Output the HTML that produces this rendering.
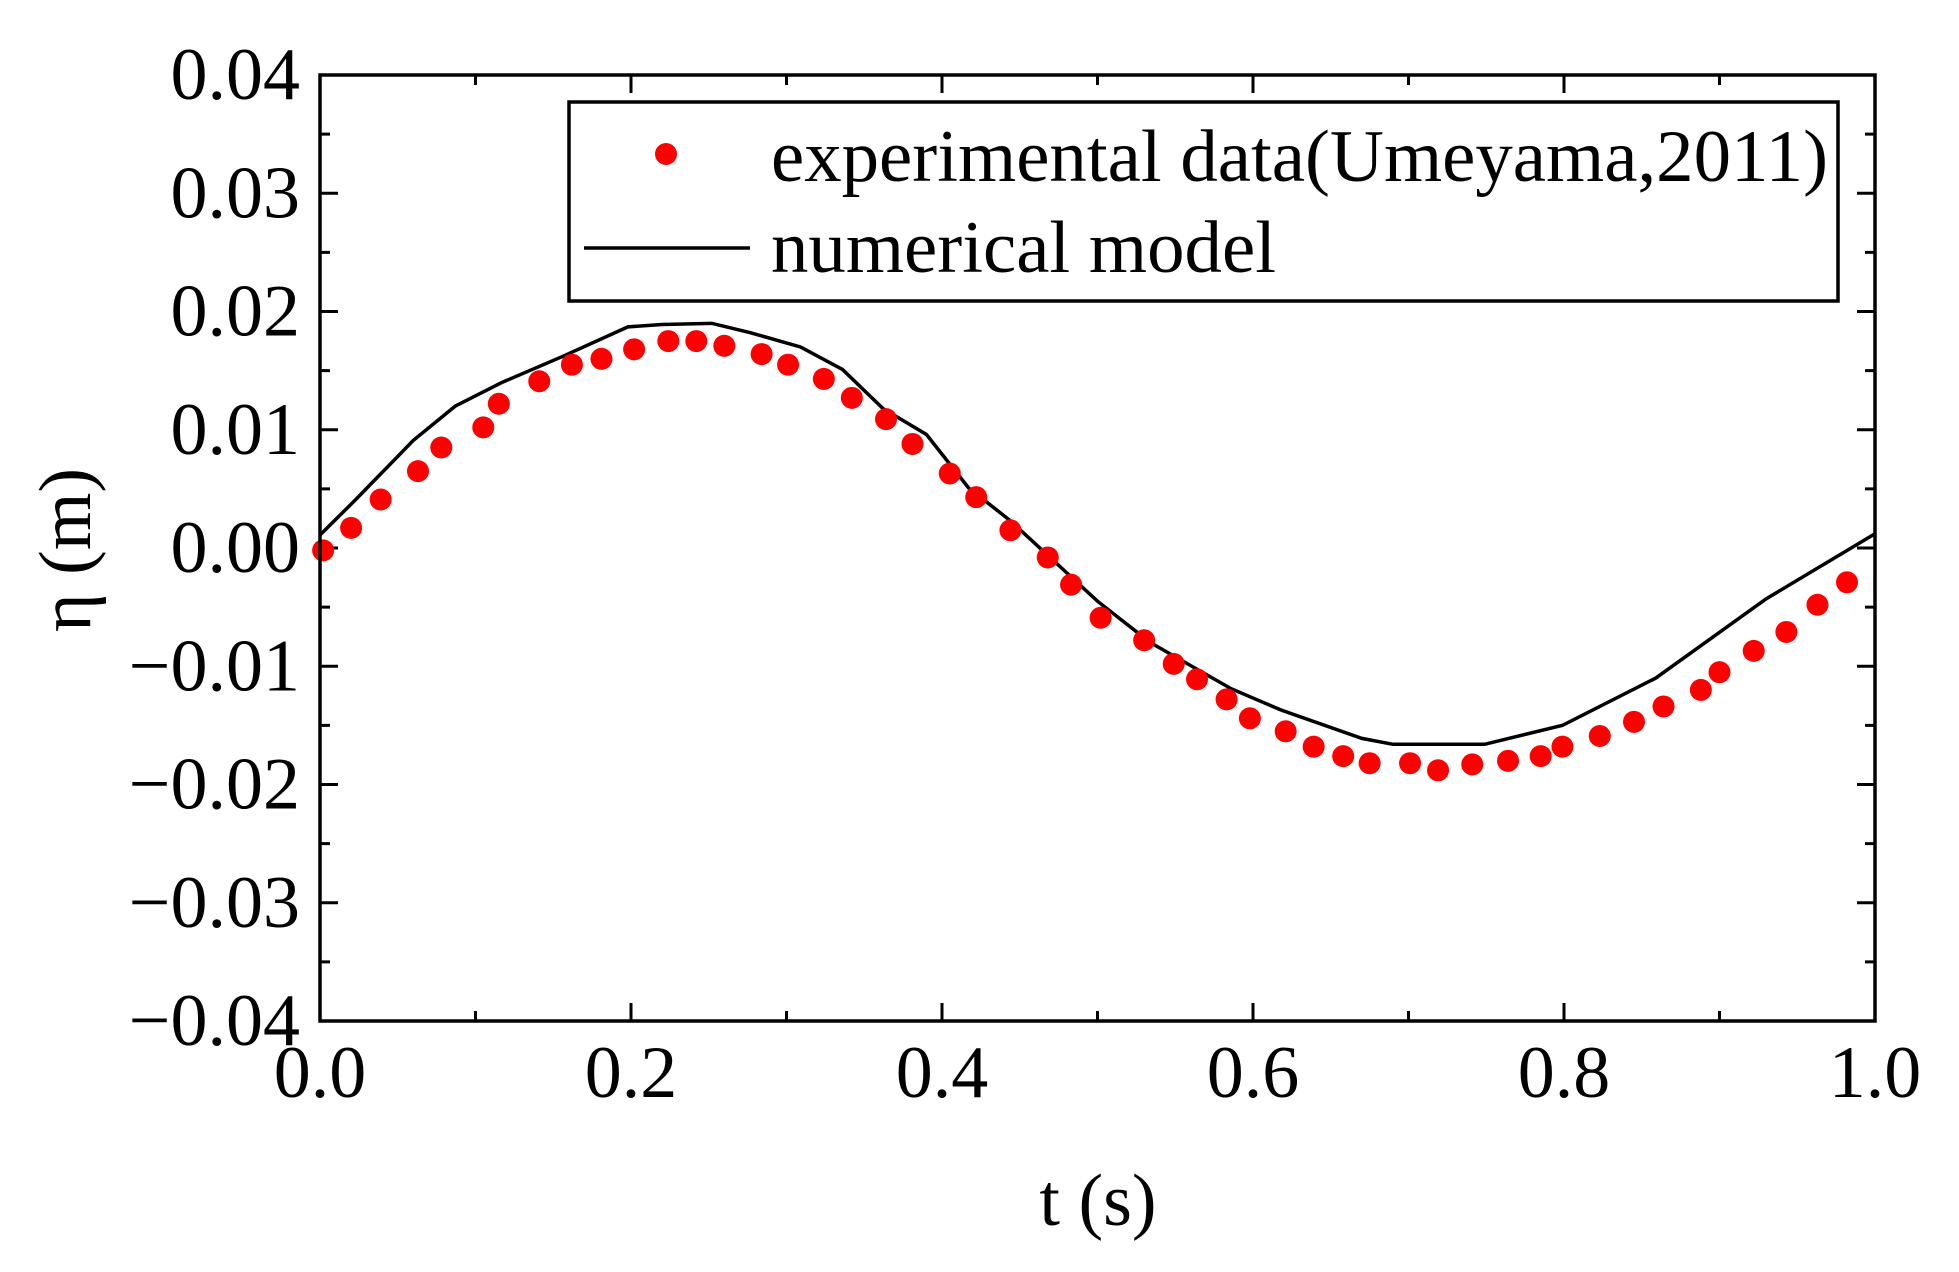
<!DOCTYPE html>
<html><head><meta charset="utf-8"><style>
html,body{margin:0;padding:0;background:#fff;}
svg{display:block;font-family:"Liberation Serif",serif;}
</style></head><body>
<svg id="chart" width="1959" height="1272" viewBox="0 0 1959 1272" xmlns="http://www.w3.org/2000/svg"></svg>
<script>
const expT=[0.002,0.020,0.039,0.063,0.078,0.105,0.115,0.141,0.162,0.181,0.202,0.224,0.242,0.260,0.284,0.301,0.324,0.342,0.364,0.381,0.405,0.422,0.444,0.468,0.483,0.502,0.530,0.549,0.564,0.583,0.598,0.621,0.639,0.658,0.675,0.701,0.719,0.741,0.764,0.785,0.799,0.823,0.845,0.864,0.888,0.900,0.922,0.943,0.963,0.982];
const expEta=[-0.0002,0.0017,0.0041,0.0065,0.0085,0.0102,0.0122,0.0141,0.0155,0.0160,0.0168,0.0175,0.0175,0.0171,0.0164,0.0155,0.0143,0.0127,0.0109,0.0088,0.0063,0.0043,0.0015,-0.0008,-0.0031,-0.0059,-0.0078,-0.0098,-0.0111,-0.0128,-0.0144,-0.0155,-0.0168,-0.0176,-0.0182,-0.0182,-0.0188,-0.0183,-0.0180,-0.0176,-0.0168,-0.0159,-0.0147,-0.0134,-0.0120,-0.0105,-0.0087,-0.0071,-0.0048,-0.0029];
const numT=[0,0.023,0.06,0.087,0.117,0.156,0.198,0.22,0.252,0.277,0.309,0.336,0.362,0.39,0.417,0.444,0.472,0.5,0.534,0.586,0.618,0.67,0.69,0.749,0.799,0.859,0.93,1.0];
const numEta=[0.0011,0.0041,0.0091,0.012,0.014,0.0162,0.0187,0.0189,0.019,0.0182,0.017,0.0151,0.0118,0.0096,0.0051,0.0023,-0.0011,-0.0045,-0.008,-0.0119,-0.0137,-0.0161,-0.0166,-0.0166,-0.015,-0.011,-0.0043,0.0012];
const xTicks=[0,0.2,0.4,0.6,0.8,1.0];
const xTickLabels=["0.0","0.2","0.4","0.6","0.8","1.0"];
const yTicks=[0.04,0.03,0.02,0.01,0,-0.01,-0.02,-0.03,-0.04];
const yTickLabels=["0.04","0.03","0.02","0.01","0.00","\u22120.01","\u22120.02","\u22120.03","\u22120.04"];

const L=320,R=1875,T=75,B=1021;
const X=t=>L+(t-0)/(1-0)*(R-L);
const Y=v=>T+(0.04-v)/0.08*(B-T);
const svg=document.getElementById('chart');
const NS="http://www.w3.org/2000/svg";
function mk(tag,attrs,parent){const e=document.createElementNS(NS,tag);for(const k in attrs)e.setAttribute(k,attrs[k]);(parent||svg).appendChild(e);return e;}

const ticks=mk('g',{stroke:'#000','stroke-width':3});


for(let i=0;i<=10;i++){const t=i/10,x=X(t),len=(i%2==0)?18:10;
  mk('line',{x1:x,y1:B,x2:x,y2:B-len},ticks);mk('line',{x1:x,y1:T,x2:x,y2:T+len},ticks);}
for(let i=0;i<=16;i++){const v=-0.04+i*0.005,y=Y(v),len=(i%2==0)?18:10;
  mk('line',{x1:L,y1:y,x2:L+len,y2:y},ticks);mk('line',{x1:R,y1:y,x2:R-len,y2:y},ticks);}

xTicks.forEach((t,i)=>{const e=mk('text',{x:X(t),y:1097,'text-anchor':'middle','font-size':74});e.textContent=xTickLabels[i];

});
yTicks.forEach((v,i)=>{const e=mk('text',{x:300,y:Y(v)+24,'text-anchor':'end','font-size':74});e.textContent=yTickLabels[i];

});

const xt=mk('text',{x:1098,y:1225,'text-anchor':'middle','font-size':74});xt.textContent='t (s)';


const yt=mk('text',{x:0,y:0,'text-anchor':'middle','font-size':74,transform:'translate(90,550) rotate(-90)'});yt.textContent='η (m)';



const pts=numT.map((t,i)=>X(t)+','+Y(numEta[i])).join(' ');
const line=mk('polyline',{points:pts,fill:'none',stroke:'#000','stroke-width':3.5});



const g=mk('g',{fill:'#ff0000'});


expT.forEach((t,i)=>{const c=mk('circle',{cx:X(t),cy:Y(expEta[i]),r:11},g);

});

const fr=mk('rect',{x:L,y:T,width:R-L,height:B-T,fill:'none',stroke:'#000','stroke-width':3.5});



const lg=mk('g',{});


mk('rect',{x:569,y:102,width:1269,height:199,fill:'#fff',stroke:'#000','stroke-width':3.5},lg);
const lm=mk('circle',{cx:666,cy:154,r:11,fill:'#ff0000'},lg);


const l1=mk('text',{x:771,y:181,'font-size':74,textLength:1057,lengthAdjust:'spacingAndGlyphs'},lg);l1.textContent='experimental data(Umeyama,2011)';


const ll=mk('line',{x1:584,y1:248,x2:750,y2:248,stroke:'#000','stroke-width':3.5},lg);


const l2=mk('text',{x:771,y:272,'font-size':74,textLength:505,lengthAdjust:'spacingAndGlyphs'},lg);l2.textContent='numerical model';


</script>
</body></html>
